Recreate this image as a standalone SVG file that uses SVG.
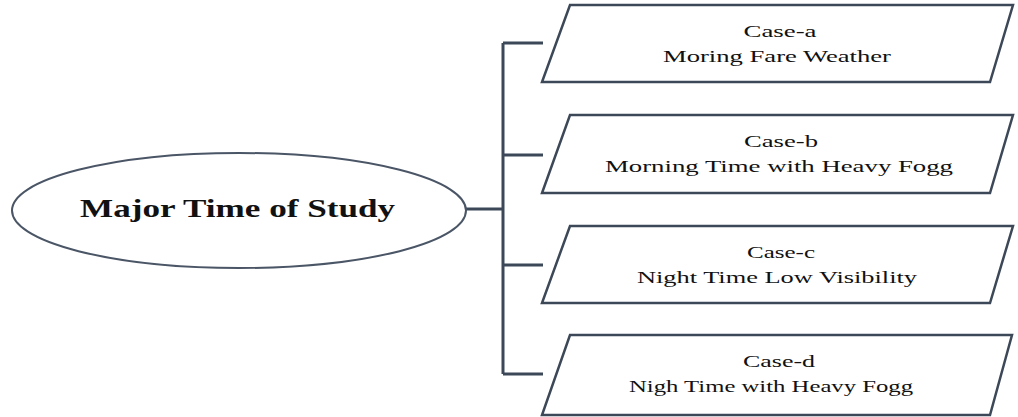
<svg xmlns="http://www.w3.org/2000/svg" width="1018" height="417" viewBox="0 0 1018 417">
<style>
.box{fill:#ffffff;stroke:#3c4858;stroke-width:2.5;stroke-linejoin:miter}
.conn{fill:none;stroke:#3c4858;stroke-width:3}
.t{font-size:16px;fill:#111;text-anchor:middle}
.main{font-size:26px;font-weight:bold;fill:#111;text-anchor:middle}
</style>
<rect width="1018" height="417" fill="#ffffff"/>
<g id="connectors">
<path class="conn" d="M466 209 H503 M503 43 V374 M503 43 H543 M503 155 H543 M503 265 H543 M503 374 H543"/>
</g>
<g id="main">
<ellipse cx="239" cy="210.5" rx="227" ry="57.5" fill="#ffffff" stroke="#4a5566" stroke-width="2"/>
<text class="main" font-family="Liberation Serif, serif" x="237.5" y="217" textLength="315" lengthAdjust="spacingAndGlyphs">Major Time of Study</text>
</g>
<g id="case-a">
<polygon class="box" points="570,5 1013,5 990,82 542,82"/>
<text class="t" font-family="Liberation Serif, serif" x="780" y="37" textLength="73" lengthAdjust="spacingAndGlyphs">Case-a</text>
<text class="t" font-family="Liberation Serif, serif" x="777" y="62" textLength="228" lengthAdjust="spacingAndGlyphs">Moring Fare Weather</text>
</g>
<g id="case-b">
<polygon class="box" points="570,115 1013,115 990,193 542,193"/>
<text class="t" font-family="Liberation Serif, serif" x="781" y="147" textLength="74" lengthAdjust="spacingAndGlyphs">Case-b</text>
<text class="t" font-family="Liberation Serif, serif" x="779" y="172" textLength="348" lengthAdjust="spacingAndGlyphs">Morning Time with Heavy Fogg</text>
</g>
<g id="case-c">
<polygon class="box" points="570,226 1013,226 990,303 542,303"/>
<text class="t" font-family="Liberation Serif, serif" x="781" y="258" textLength="68" lengthAdjust="spacingAndGlyphs">Case-c</text>
<text class="t" font-family="Liberation Serif, serif" x="777" y="283" textLength="280" lengthAdjust="spacingAndGlyphs">Night Time Low Visibility</text>
</g>
<g id="case-d">
<polygon class="box" points="570,335 1012,335 990,415 542,415"/>
<text class="t" font-family="Liberation Serif, serif" x="779" y="367" textLength="72" lengthAdjust="spacingAndGlyphs">Case-d</text>
<text class="t" font-family="Liberation Serif, serif" x="771" y="392" textLength="284" lengthAdjust="spacingAndGlyphs">Nigh Time with Heavy Fogg</text>
</g>
</svg>
